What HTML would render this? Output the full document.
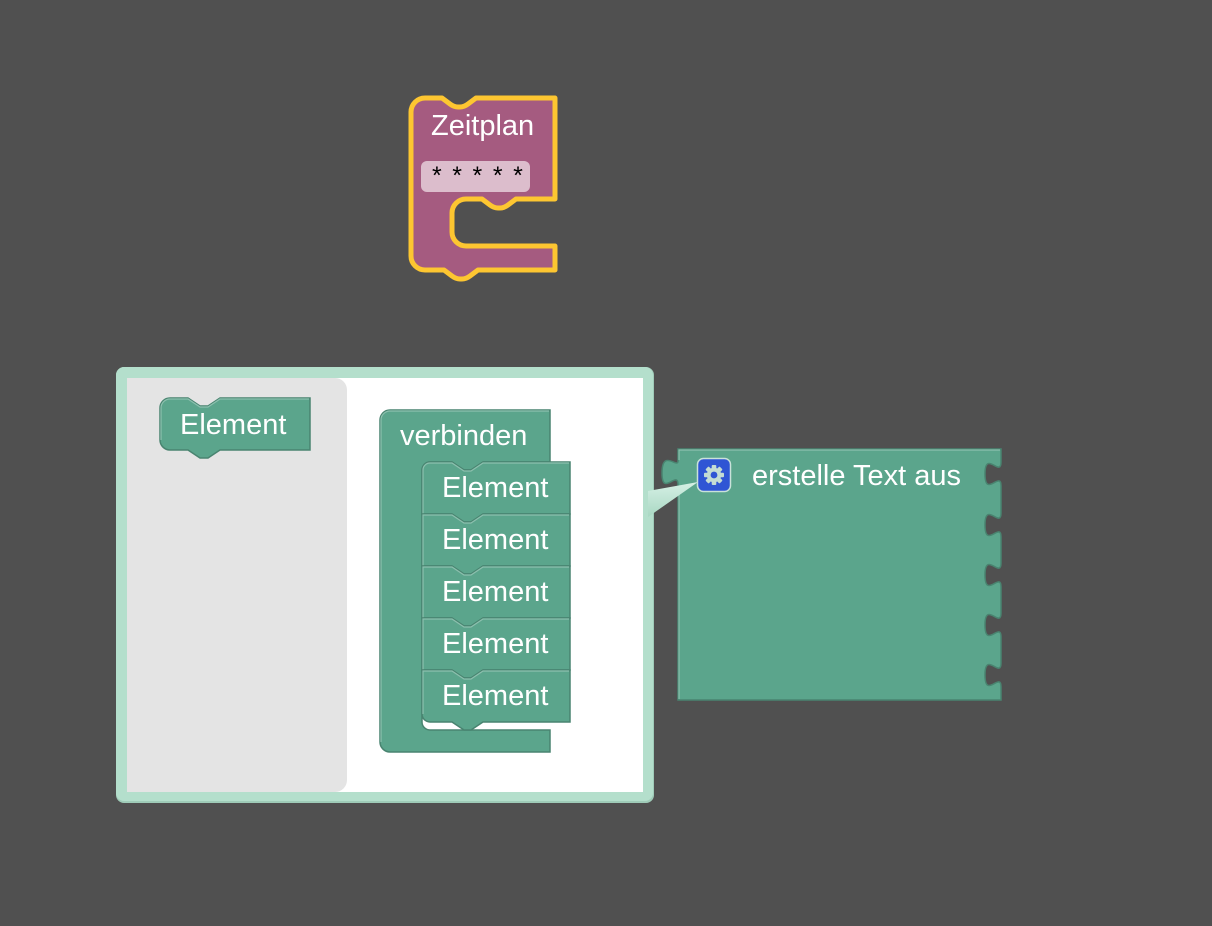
<!DOCTYPE html>
<html><head><meta charset="utf-8">
<style>
html,body{margin:0;padding:0;background:#505050;}
svg{display:block;}
text{font-family:"Liberation Sans",Arial,sans-serif;font-size:29px;fill:#fff;}
</style></head>
<body>
<svg width="1212" height="926" viewBox="0 0 1212 926" xmlns="http://www.w3.org/2000/svg">
<defs>
<linearGradient id="tg" x1="0" y1="0" x2="0" y2="1">
<stop offset="0" stop-color="#d6f0e5"/>
<stop offset="1" stop-color="#a9d8c3"/>
</linearGradient>
</defs>
<rect width="1212" height="926" fill="#505050"/>

<!-- Zeitplan block -->
<path d="M 411,112 a 14 14 0 0 1 14,-14 H 442 l 8,6 q 4,3 8,3 h 2 q 4,0 8,-3 l 8,-6 H 555 V 199 H 516 l -8,6 q -4,3 -8,3 h -2 q -4,0 -8,-3 l -8,-6 H 466 a 14 14 0 0 0 -14,14 V 232 a 14 14 0 0 0 14,14 H 555 V 270 H 478 l -8,6 q -4,3 -8,3 h -2 q -4,0 -8,-3 l -8,-6 H 425 a 14 14 0 0 1 -14,-14 Z" fill="#a55b80" stroke="#fdc631" stroke-width="5" stroke-linejoin="round"/>
<text x="431" y="135">Zeitplan</text>
<rect x="421" y="161" width="109" height="31" rx="6" fill="#dcbdcc"/>
<text x="432" y="184" style="fill:#000;font-size:25px;letter-spacing:1.8px">* * * * *</text>

<!-- Mutator bubble -->
<rect x="116" y="367" width="538" height="436" rx="8" fill="#9fcbb8"/>
<rect x="116" y="367" width="537" height="434" rx="8" fill="#b4dfcc"/>
<rect x="127" y="378" width="516" height="414" fill="#ffffff"/>
<path d="M127,378 H335 a12 12 0 0 1 12,12 V780 a12 12 0 0 1 -12,12 H127 Z" fill="#e4e4e4"/>

<!-- flyout Element -->
<path d="M 160,408 a 10 10 0 0 1 10,-10 H 188 l 12,8 h 8 l 12,-8 H 310 V 450 H 220 l -12,8 h -8 l -12,-8 H 170 a 10 10 0 0 1 -10,-10 Z" fill="#5ba58c" stroke="#498470" stroke-width="1.5"/>
<path d="M 161,440 V 408 a 9 9 0 0 1 9,-9 H 188 l 12,8 h 8 l 12,-8 H 309" fill="none" stroke="#8cc0ae" stroke-width="1.2"/>
<text x="180" y="434">Element</text>

<!-- verbinden container -->
<path d="M 380,420 a 10 10 0 0 1 10,-10 H 550 V 462 H 483 l -12,8 h -7 l -12,-8 H 430 a 8 8 0 0 0 -8,8 V 722 a 8 8 0 0 0 8,8 H 550 V 752 H 390 a 10 10 0 0 1 -10,-10 Z" fill="#5ba58c" stroke="#498470" stroke-width="1.5"/>
<path d="M 381,742 V 420 a 9 9 0 0 1 9,-9 H 549" fill="none" stroke="#8cc0ae" stroke-width="1.2"/>
<text x="400" y="445">verbinden</text>

<!-- stacked Elements -->
<path d="M 422,470 a 8 8 0 0 1 8,-8 H 452 l 12,8 h 7 l 12,-8 H 570 V 514 H 483 l -12,8 h -7 l -12,-8 H 422 Z" fill="#5ba58c" stroke="#498470" stroke-width="1.5"/>
<path d="M 423,514 V 470 a 7 7 0 0 1 7,-7 H 452 l 12,8 h 7 l 12,-8 H 569" fill="none" stroke="#8cc0ae" stroke-width="1.2"/>
<text x="442" y="497">Element</text>

<path d="M 422,514 H 452 l 12,8 h 7 l 12,-8 H 570 V 566 H 483 l -12,8 h -7 l -12,-8 H 422 Z" fill="#5ba58c" stroke="#498470" stroke-width="1.5"/>
<path d="M 423,566 V 515 H 452 l 12,8 h 7 l 12,-8 H 569" fill="none" stroke="#8cc0ae" stroke-width="1.2"/>
<text x="442" y="549">Element</text>

<path d="M 422,566 H 452 l 12,8 h 7 l 12,-8 H 570 V 618 H 483 l -12,8 h -7 l -12,-8 H 422 Z" fill="#5ba58c" stroke="#498470" stroke-width="1.5"/>
<path d="M 423,618 V 567 H 452 l 12,8 h 7 l 12,-8 H 569" fill="none" stroke="#8cc0ae" stroke-width="1.2"/>
<text x="442" y="601">Element</text>

<path d="M 422,618 H 452 l 12,8 h 7 l 12,-8 H 570 V 670 H 483 l -12,8 h -7 l -12,-8 H 422 Z" fill="#5ba58c" stroke="#498470" stroke-width="1.5"/>
<path d="M 423,670 V 619 H 452 l 12,8 h 7 l 12,-8 H 569" fill="none" stroke="#8cc0ae" stroke-width="1.2"/>
<text x="442" y="653">Element</text>

<path d="M 422,670 H 452 l 12,8 h 7 l 12,-8 H 570 V 722 H 483 l -12,8 h -7 l -12,-8 H 430 a 8 8 0 0 1 -8,-8 Z" fill="#5ba58c" stroke="#498470" stroke-width="1.5"/>
<path d="M 423,714 V 671 H 452 l 12,8 h 7 l 12,-8 H 569" fill="none" stroke="#8cc0ae" stroke-width="1.2"/>
<text x="442" y="705">Element</text>

<!-- erstelle Text aus block -->
<path d="M 678,449 H 1001 V 462 c 0,16 -16,-12.8 -16,12 s 16,-4 16,12 V 513 c 0,16 -16,-12.8 -16,12 s 16,-4 16,12 V 563 c 0,16 -16,-12.8 -16,12 s 16,-4 16,12 V 613 c 0,16 -16,-12.8 -16,12 s 16,-4 16,12 V 663 c 0,16 -16,-12.8 -16,12 s 16,-4 16,12 V 700 H 678 V 485 c 0,-16 -16,12.8 -16,-12 s 16,-4 16,-12 V 449 Z" fill="#5ba58c" stroke="#498470" stroke-width="1.5"/>
<path d="M 679,699 V 486 M 679,460 V 450 H 1000" fill="none" stroke="#8cc0ae" stroke-width="1.2"/>

<!-- bubble tail (on top of block) -->
<polygon points="648,491 698,482 648,517" fill="url(#tg)"/>

<!-- gear icon -->
<rect x="697.5" y="458.5" width="33" height="33" rx="6" fill="#2f55d4" stroke="#c9e2d9" stroke-width="1.5"/>
<g transform="translate(714,475)" fill="#c4dcd3">
  <circle r="7.2"/>
  <rect x="-2.3" y="-10" width="4.6" height="20" rx="1"/>
  <rect x="-2.3" y="-10" width="4.6" height="20" rx="1" transform="rotate(45)"/>
  <rect x="-2.3" y="-10" width="4.6" height="20" rx="1" transform="rotate(90)"/>
  <rect x="-2.3" y="-10" width="4.6" height="20" rx="1" transform="rotate(135)"/>
  <circle r="3.4" fill="#2f55d4"/>
</g>
<text x="752" y="485">erstelle Text aus</text>
</svg>
</body></html>
